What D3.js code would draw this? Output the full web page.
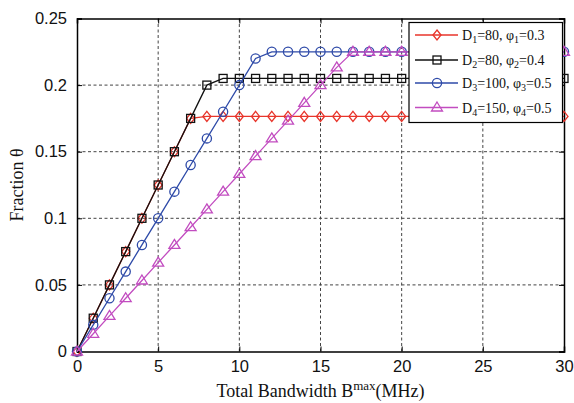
<!DOCTYPE html>
<html>
<head>
<meta charset="utf-8">
<script src="https://cdn.jsdelivr.net/npm/d3@7"></script>
<style>
  html, body { margin: 0; padding: 0; background: #fff; }
  svg { display: block; }
</style>
</head>
<body>
<svg id="chart" width="574" height="403"></svg>
<script>
// Bandwidth values (MHz), one sample per integer
const bandwidth = d3.range(0, 31);

// Fraction theta for each parameter set
const fracD1 = [0, 0.025, 0.05, 0.075, 0.1, 0.125, 0.15, 0.175, 0.1765, 0.1765, 0.1765,
  0.1765, 0.1765, 0.1765, 0.1765, 0.1765, 0.1765, 0.1765, 0.1765, 0.1765, 0.1765,
  0.1765, 0.1765, 0.1765, 0.1765, 0.1765, 0.1765, 0.1765, 0.1765, 0.1765, 0.1765];
const fracD2 = [0, 0.025, 0.05, 0.075, 0.1, 0.125, 0.15, 0.175, 0.2, 0.205, 0.205,
  0.205, 0.205, 0.205, 0.205, 0.205, 0.205, 0.205, 0.205, 0.205, 0.205,
  0.205, 0.205, 0.205, 0.205, 0.205, 0.205, 0.205, 0.205, 0.205, 0.205];
const fracD3 = [0, 0.02, 0.04, 0.06, 0.08, 0.1, 0.12, 0.14, 0.16, 0.18, 0.2,
  0.22, 0.225, 0.225, 0.225, 0.225, 0.225, 0.225, 0.225, 0.225, 0.225,
  0.225, 0.225, 0.225, 0.225, 0.225, 0.225, 0.225, 0.225, 0.225, 0.225];
const fracD4 = [0, 0.0133, 0.0267, 0.04, 0.0533, 0.0667, 0.08, 0.0933, 0.1067, 0.12, 0.1333,
  0.1467, 0.16, 0.1733, 0.1867, 0.2, 0.2133, 0.225, 0.225, 0.225, 0.225,
  0.225, 0.225, 0.225, 0.225, 0.225, 0.225, 0.225, 0.225, 0.225, 0.225];

const xTicks = [0, 5, 10, 15, 20, 25, 30];
const yTicks = [0, 0.05, 0.1, 0.15, 0.2, 0.25];
const yTickLabels = ["0", "0.05", "0.1", "0.15", "0.2", "0.25"];

// Legend entries: [D subscript, D value, phi subscript, phi value]
const legendLabels = [
  ["1", "80", "1", "0.3"],
  ["2", "80", "2", "0.4"],
  ["3", "100", "3", "0.5"],
  ["4", "150", "4", "0.5"]
];

const seriesStyles = [
  { color: "#e8352b", marker: "diamond" },
  { color: "#111111", marker: "square" },
  { color: "#2e4aa8", marker: "circle" },
  { color: "#c24cc0", marker: "triangle" }
];
const seriesValues = [fracD1, fracD2, fracD3, fracD4];

const svg = d3.select("#chart");
const plot = { left: 77, right: 564, top: 18.5, bottom: 351.5 };

const x = d3.scaleLinear().domain([0, 30]).range([plot.left, plot.right]);
const y = d3.scaleLinear().domain([0, 0.25]).range([plot.bottom, plot.top]);

// Dashed grid
const grid = svg.append("g");
grid.selectAll("line.gx").data(xTicks.slice(1, -1)).join("line")
  .attr("x1", d => x(d)).attr("x2", d => x(d))
  .attr("y1", plot.top).attr("y2", plot.bottom)
  .attr("stroke", "#444").attr("stroke-width", 1).attr("stroke-dasharray", "3,2.5");
grid.selectAll("line.gy").data(yTicks.slice(1, -1)).join("line")
  .attr("x1", plot.left).attr("x2", plot.right)
  .attr("y1", d => y(d)).attr("y2", d => y(d))
  .attr("stroke", "#444").attr("stroke-width", 1).attr("stroke-dasharray", "3,2.5");

// Axes with inward ticks
const tickFont = "'Liberation Sans', Arial, sans-serif";
const xAxis = svg.append("g").attr("transform", `translate(0,${plot.bottom})`)
  .call(d3.axisBottom(x).tickValues(xTicks).tickSize(-5).tickPadding(10).tickFormat(d3.format("d")));
const xAxisTop = svg.append("g").attr("transform", `translate(0,${plot.top})`)
  .call(d3.axisTop(x).tickValues(xTicks).tickSize(-5).tickFormat(""));
const yAxis = svg.append("g").attr("transform", `translate(${plot.left},0)`)
  .call(d3.axisLeft(y).tickValues(yTicks).tickSize(-5).tickPadding(10)
    .tickFormat((d, i) => yTickLabels[i]));
const yAxisRight = svg.append("g").attr("transform", `translate(${plot.right},0)`)
  .call(d3.axisRight(y).tickValues(yTicks).tickSize(-5).tickFormat(""));

[xAxis, xAxisTop, yAxis, yAxisRight].forEach(g => {
  g.select(".domain").attr("stroke", "#000").attr("stroke-width", 1.5);
  g.selectAll(".tick line").attr("stroke", "#000").attr("stroke-width", 1);
  g.selectAll("text").attr("fill", "#111").style("font-family", tickFont).style("font-size", "16.5px");
});
xAxis.selectAll("text").attr("dy", "0.62em");

// Marker shapes
function drawMarker(g, kind, color, cx, cy) {
  if (kind === "diamond") {
    g.append("path").attr("d", `M${cx},${cy - 5}L${cx + 4},${cy}L${cx},${cy + 5}L${cx - 4},${cy}Z`)
      .attr("fill", "none").attr("stroke", color).attr("stroke-width", 1.3);
  } else if (kind === "square") {
    g.append("rect").attr("x", cx - 4).attr("y", cy - 4).attr("width", 8).attr("height", 8)
      .attr("fill", "none").attr("stroke", color).attr("stroke-width", 1.3);
  } else if (kind === "circle") {
    g.append("circle").attr("cx", cx).attr("cy", cy).attr("r", 4.6)
      .attr("fill", "none").attr("stroke", color).attr("stroke-width", 1.3);
  } else {
    g.append("path").attr("d", `M${cx},${cy - 5.5}L${cx + 5.5},${cy + 3.5}L${cx - 5.5},${cy + 3.5}Z`)
      .attr("fill", "none").attr("stroke", color).attr("stroke-width", 1.3);
  }
}

// Series lines and markers
const line = d3.line().x((d, i) => x(bandwidth[i])).y(d => y(d));
seriesValues.forEach((vals, s) => {
  const st = seriesStyles[s];
  const g = svg.append("g");
  g.append("path").datum(vals).attr("d", line)
    .attr("fill", "none").attr("stroke", st.color).attr("stroke-width", 1.3);
  vals.forEach((v, i) => drawMarker(g, st.marker, st.color, x(bandwidth[i]), y(v)));
});

// Legend
const serif = "'Liberation Serif', 'Times New Roman', serif";
const legend = svg.append("g");
legend.append("rect").attr("x", 409).attr("y", 22.5).attr("width", 153.5).attr("height", 100)
  .attr("fill", "#fff").attr("stroke", "#000").attr("stroke-width", 1.2);
const rowY = [35, 60, 83, 107.5];
legendLabels.forEach((lab, i) => {
  const st = seriesStyles[i];
  const cy = rowY[i];
  legend.append("line").attr("x1", 415).attr("x2", 458).attr("y1", cy).attr("y2", cy)
    .attr("stroke", st.color).attr("stroke-width", 1.3);
  drawMarker(legend, st.marker, st.color, 437, cy);
  const t = legend.append("text").attr("x", 462).attr("y", cy + 5)
    .style("font-family", serif).style("font-size", "14px").attr("fill", "#111");
  t.append("tspan").text("D");
  t.append("tspan").attr("dy", 3).style("font-size", "10px").text(lab[0]);
  t.append("tspan").attr("dy", -3).text(`=${lab[1]}, φ`);
  t.append("tspan").attr("dy", 3).style("font-size", "10px").text(lab[2]);
  t.append("tspan").attr("dy", -3).text(`=${lab[3]}`);
});

// Axis titles
const xl = svg.append("text").attr("x", (plot.left + plot.right) / 2).attr("y", 397)
  .attr("text-anchor", "middle").style("font-family", serif).style("font-size", "18px").attr("fill", "#111");
xl.append("tspan").text("Total Bandwidth B");
xl.append("tspan").attr("dy", -7).style("font-size", "13px").text("max");
xl.append("tspan").attr("dy", 7).text("(MHz)");

svg.append("text").attr("transform", `translate(22.5,${(plot.top + plot.bottom) / 2}) rotate(-90)`)
  .attr("text-anchor", "middle").style("font-family", serif).style("font-size", "18px").attr("fill", "#111")
  .text("Fraction θ");
</script>
</body>
</html>
